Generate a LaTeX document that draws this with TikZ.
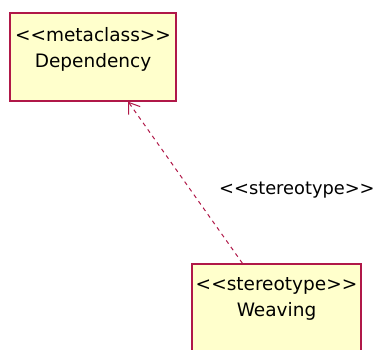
\documentclass[tikz,border=0pt]{standalone}
\usepackage{fontspec}
\newfontfamily\umlfont{DejaVu Sans}
\usetikzlibrary{positioning,calc,arrows.meta}
\definecolor{umlborder}{RGB}{176,24,72}
\definecolor{umlfill}{RGB}{255,255,204}
\begin{document}
\begin{tikzpicture}[x=1pt, y=-1pt, font=\umlfont\fontsize{18.5}{26.5}\selectfont,
    umlbox/.style={draw=umlborder, fill=umlfill, line width=1.5pt, inner sep=0pt},
    umltext/.style={inner sep=0pt, outer sep=0pt, align=center},
    depline/.style={umlborder, line width=1pt, dash pattern=on 4pt off 4pt, -{Straight Barb[length=10pt,width=14pt]}}]
  \useasboundingbox (0,0) rectangle (375,349);
  \clip (0,0) rectangle (375,349);
  \node[umlbox, minimum width=166pt, minimum height=88pt] (dep) at (93,57) {};
  \node[umltext, below=15pt of dep.north] (deptext) {<<metaclass>>\\Dependency};
  \node[umlbox, minimum width=169pt, minimum height=110pt] (weave) at (276.5,319) {};
  \node[umltext, below=14pt of weave.north] (weavetext) {<<stereotype>>\\Weaving};
  \draw[depline] ($(weave.north west)!0.3!(weave.north east)$) -- ($(dep.south west)!0.71!(dep.south east)$)
    node[pos=0.47, right=30pt, yshift=-3pt, inner sep=0pt, text=black, font=\umlfont\fontsize{17.8}{20}\selectfont] (deplabel) {<<stereotype>>};
\end{tikzpicture}
\end{document}
